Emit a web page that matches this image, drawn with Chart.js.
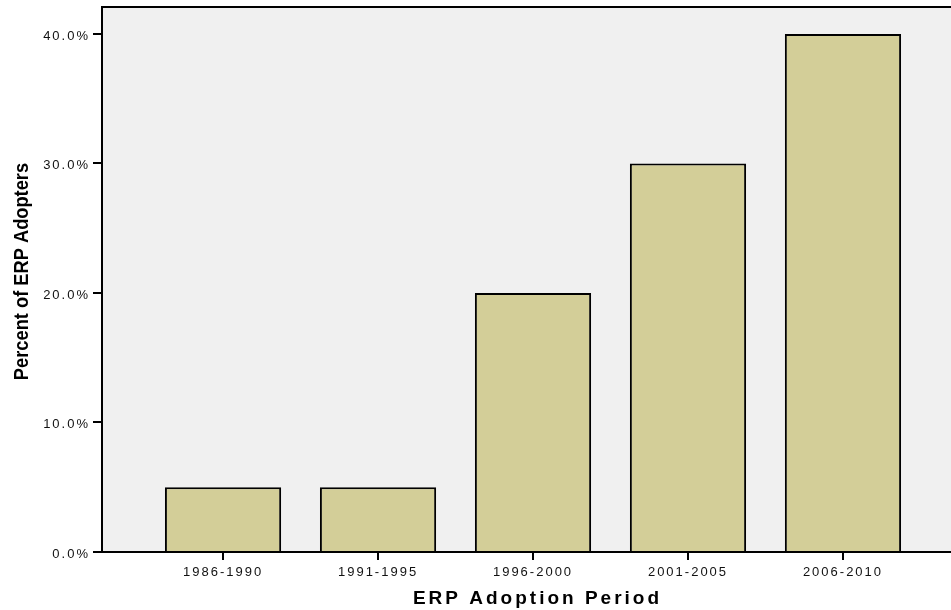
<!DOCTYPE html>
<html>
<head>
<meta charset="utf-8">
<script src="https://cdn.jsdelivr.net/npm/chart.js@4.4.1/dist/chart.umd.min.js"></script>
<style>
  html, body { margin: 0; padding: 0; background: #fff; }
  #wrap { width: 951px; height: 610px; }
</style>
</head>
<body>
<div id="wrap"><canvas id="erpChart"></canvas></div>
<script>
// ── Data ─────────────────────────────────────────────────────────────────────
const periods = ['1986-1990', '1991-1995', '1996-2000', '2001-2005', '2006-2010'];
const adopterPct = [5, 5, 20, 30, 40];
const yTicks = [0, 10, 20, 30, 40];

// axis titles: SPSS look (wide x title, narrow y title), nudged into place
function patchTitle(scale, spacing, dx, dy, sx, sy) {
    if (!scale || scale._patched) return;
    const orig = scale.drawTitle;
    scale.drawTitle = function () {
        const c = this.ctx;
        const cx = (this.left + this.right) / 2, cy = (this.top + this.bottom) / 2;
        c.save();
        c.letterSpacing = spacing;
        c.translate(cx + dx, cy + dy);
        c.scale(sx, sy);
        c.translate(-cx, -cy);
        orig.call(this);
        c.restore();
    };
    scale._patched = true;
}

// grey plot background + top frame line
const plotFrame = {
    id: 'plotFrame',
    afterUpdate(chart) {
        patchTitle(chart.scales.x, '3px', 11, 0, 1, 1);
        patchTitle(chart.scales.y, '0px', 0, -8, 1, 0.87);
    },
    beforeDraw(chart) {
        const { ctx, chartArea: a } = chart;
        ctx.save();
        ctx.fillStyle = '#f0f0f0';
        ctx.fillRect(a.left, a.top, a.right - a.left, a.bottom - a.top);
        ctx.strokeStyle = '#000';
        ctx.lineWidth = 2;
        ctx.beginPath();
        ctx.moveTo(a.left, a.top);
        ctx.lineTo(a.right, a.top);
        ctx.stroke();
        ctx.restore();
        ctx.letterSpacing = '2px';
    }
};

new Chart(document.getElementById('erpChart').getContext('2d'), {
    type: 'bar',
    data: {
        datasets: [{
            data: adopterPct.map((v, i) => ({ x: i + 1, y: v })),
            backgroundColor: '#d3ce98',
            borderColor: '#000',
            borderWidth: 2,
            barPercentage: 0.75,
            categoryPercentage: 1
        }]
    },
    options: {
        responsive: true,
        maintainAspectRatio: false,
        animation: false,
        events: [],
        layout: { padding: { left: 0, top: 7, right: 0, bottom: 0 } },
        plugins: { legend: { display: false }, tooltip: { enabled: false } },
        scales: {
            x: {
                type: 'linear',
                offset: false,
                min: 0.219,
                max: 5.697,
                afterBuildTicks: s => { s.ticks = periods.map((_, i) => ({ value: i + 1 })); },
                afterFit: s => { s.height = 58; s.paddingLeft = 0; s.paddingRight = 0; },
                ticks: {
                    callback: v => periods[v - 1],
                    color: '#111',
                    padding: 5,
                    maxRotation: 0,
                    autoSkip: false,
                    font: { family: 'Liberation Sans, Arial, sans-serif', size: 13 }
                },
                grid: { offset: false, drawOnChartArea: false, tickLength: 8, color: '#000', lineWidth: 2 },
                border: { color: '#000', width: 2 },
                title: {
                    display: true,
                    text: 'ERP Adoption Period',
                    color: '#000',
                    padding: { top: 0, bottom: 0 },
                    font: { family: 'Liberation Sans, Arial, sans-serif', size: 19, weight: 'bold' }
                }
            },
            y: {
                min: 0,
                max: 42.08,
                afterBuildTicks: s => { s.ticks = yTicks.map(v => ({ value: v })); },
                afterFit: s => { s.width = 102; s.paddingTop = 0; s.paddingBottom = 0; },
                ticks: {
                    callback: v => v.toFixed(1) + '%',
                    color: '#111',
                    padding: 3,
                    labelOffset: 2,
                    font: { family: 'Liberation Sans, Arial, sans-serif', size: 13 }
                },
                grid: { drawOnChartArea: false, tickLength: 9, color: '#000', lineWidth: 2 },
                border: { color: '#000', width: 2 },
                title: {
                    display: true,
                    text: 'Percent of ERP Adopters',
                    color: '#000',
                    padding: { top: 10, bottom: 0 },
                    font: { family: 'Liberation Sans, Arial, sans-serif', size: 21, weight: 'bold' }
                }
            }
        }
    },
    plugins: [plotFrame]
});
</script>
</body>
</html>
